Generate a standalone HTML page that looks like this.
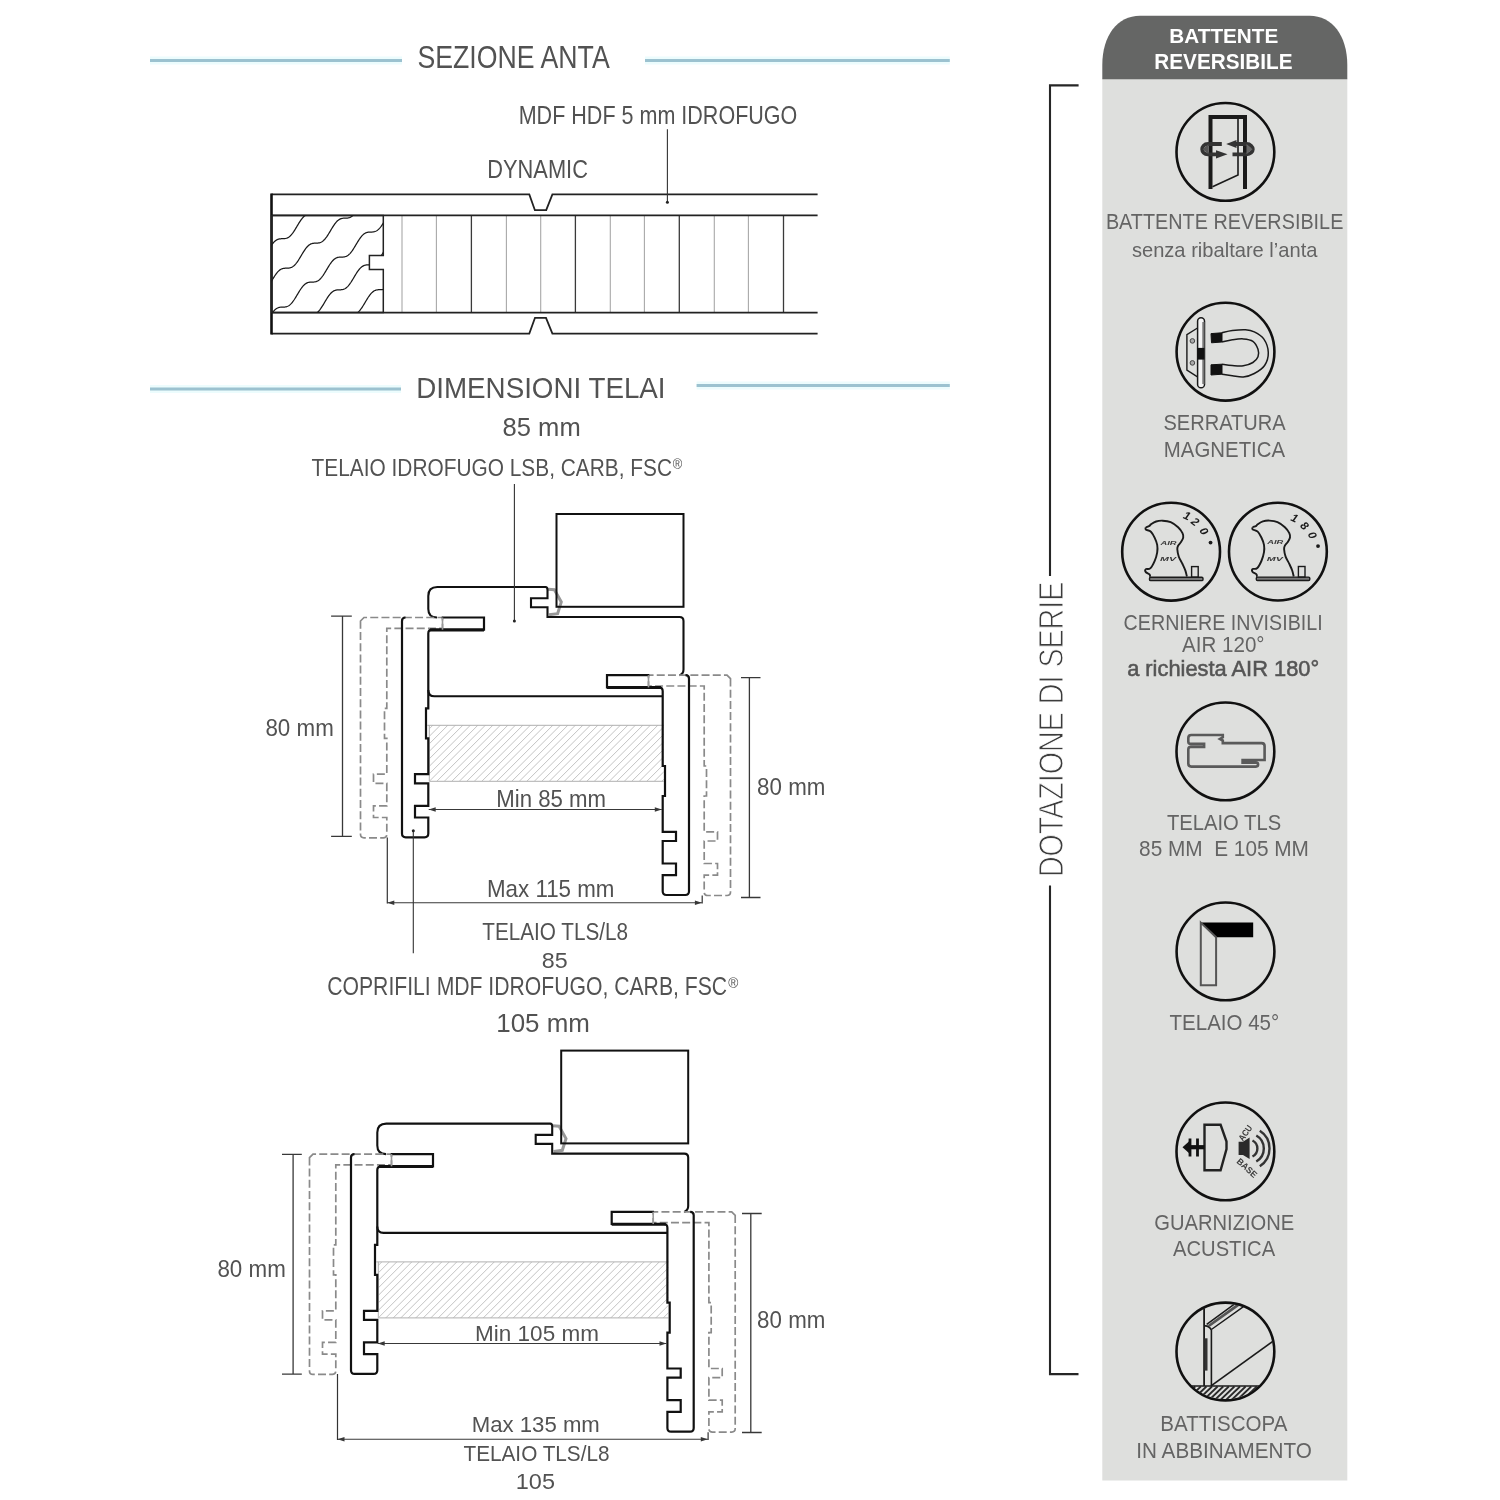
<!DOCTYPE html><html><head><meta charset="utf-8"><style>html,body{margin:0;padding:0;background:#fff;}svg{display:block;} text{font-family:"Liberation Sans",sans-serif;}</style></head><body><svg width="1500" height="1500" viewBox="0 0 1500 1500"><rect width="1500" height="1500" fill="#fff"/>
<rect x="1102.3" y="78.5" width="245" height="1402" fill="#dedfdd"/>
<path d="M1102.3,79.3 L1102.3,65 C1102.3,35.6 1117.5,15.75 1140,15.75 L1309.6,15.75 C1332.1,15.75 1347.3,35.6 1347.3,65 L1347.3,79.3 Z" fill="#656665"/>
<path d="M1078.6,85.4 L1050,85.4 L1050,576 M1050,885.6 L1050,1374.1 L1078.5,1374.1" fill="none" stroke="#262626" stroke-width="2.1"/>
<g fill="none" stroke-linejoin="miter">
<path d="M150,60.5 H402 M645,60.5 H949.8 M150,389 H401 M696.6,385.4 H949.8" stroke="#ecfcfd" stroke-width="8"/>
<path d="M150,60.5 H402 M645,60.5 H949.8 M150,389 H401 M696.6,385.4 H949.8" stroke="#9cc2d0" stroke-width="3"/>
<path d="M402,215.4 V312.4 M436.4,215.4 V312.4 M506.4,215.4 V312.4 M540.7,215.4 V312.4 M610.3,215.4 V312.4 M644.4,215.4 V312.4 M714.3,215.4 V312.4 M748.4,215.4 V312.4" stroke="#a8a8a8" stroke-width="1.1"/>
<path d="M471.4,215.4 V312.4 M575.4,215.4 V312.4 M679.3,215.4 V312.4 M783.5,215.4 V312.4" stroke="#3a3a3a" stroke-width="1.3"/>
<path d="M271.4,194.4 H529.3 L534.9,210.2 H546.2 L552.4,194.4 H817.6" stroke="#222" stroke-width="1.8"/>
<path d="M271.4,333.6 H529.3 L535,317.8 H546 L552.4,333.6 H817.6" stroke="#222" stroke-width="1.8"/>
<path d="M271.4,215.4 H817.6 M271.4,312.6 H817.6" stroke="#222" stroke-width="1.7"/>
<path d="M271.5,193.5 V334.5" stroke="#111" stroke-width="2.6"/>
<path d="M271.6,215.4 H383.3 V255.4 H369.4 V269.4 H383.3 V312.6 H271.6 Z" stroke="#222" stroke-width="1.5"/>
<clipPath id="wb"><path d="M271.6,215.4 H383.3 V255.4 H369.4 V269.4 H383.3 V312.6 H271.6 Z"/></clipPath>
<g clip-path="url(#wb)"><path d="M262.38,259.30 L262.88,258.68 L263.38,258.02 L263.88,257.33 L264.38,256.60 L264.88,255.84 L265.38,255.06 L265.88,254.26 L266.38,253.44 L266.88,252.61 L267.38,251.77 L267.88,250.92 L268.38,250.08 L268.88,249.25 L269.38,248.42 L269.88,247.62 L270.38,246.83 L270.88,246.06 L271.38,245.33 L271.88,244.62 L272.38,243.96 L272.88,243.32 L273.38,242.73 L273.88,242.18 L274.38,241.67 L274.88,241.21 L275.38,240.79 L275.88,240.42 L276.38,240.09 L276.88,239.80 L277.38,239.56 L277.88,239.35 L278.38,239.18 L278.88,239.05 L279.38,238.94 L279.88,238.86 L280.38,238.81 L280.88,238.77 L281.38,238.74 L281.88,238.73 L282.38,238.72 L282.88,238.71 L283.38,238.70 L283.88,238.67 L284.38,238.63 L284.88,238.58 L285.38,238.50 L285.88,238.39 L286.38,238.26 L286.88,238.09 L287.38,237.88 L287.88,237.64 L288.38,237.35 L288.88,237.02 L289.38,236.65 L289.88,236.23 L290.38,235.77 L290.88,235.26 L291.38,234.71 L291.88,234.12 L292.38,233.48 L292.88,232.82 L293.38,232.11 L293.88,231.38 L294.38,230.61 L294.88,229.82 L295.38,229.02 L295.88,228.19 L296.38,227.36 L296.88,226.52 L297.38,225.67 L297.88,224.83 L298.38,224.00 L298.88,223.18 L299.38,222.38 L299.88,221.60 L300.38,220.84 L300.88,220.11 L301.38,219.42 L301.88,218.76 L302.38,218.14 L302.88,217.56 L303.38,217.02 L303.88,216.53 L304.38,216.08 L304.88,215.67 L305.38,215.31 L305.88,214.99 L306.38,214.72 L306.88,214.48 L307.38,214.29 L307.88,214.13 L308.38,214.00 L308.88,213.90 L309.38,213.83 L309.88,213.78 L310.38,213.74 L310.88,213.72 L311.38,213.71 L311.88,213.70 L312.38,213.69 L312.88,213.68 L313.38,213.65 L313.88,213.61 L314.38,213.54 L314.88,213.46 L315.38,213.34 L315.88,213.20 L316.38,213.02 L316.88,212.80 L317.38,212.54 L317.88,212.25 L318.38,211.90 L318.88,211.52 L319.38,211.09 L319.88,210.61 L320.38,210.09 L320.88,209.53 L321.38,208.93 L321.88,208.29 L322.38,207.61 L322.88,206.89 L323.38,206.15 L323.88,205.38 M262.49,292.17 L262.99,291.90 L263.49,291.58 L263.99,291.22 L264.49,290.81 L264.99,290.36 L265.49,289.87 L265.99,289.33 L266.49,288.75 L266.99,288.13 L267.49,287.47 L267.99,286.78 L268.49,286.05 L268.99,285.29 L269.49,284.51 L269.99,283.71 L270.49,282.89 L270.99,282.06 L271.49,281.22 L271.99,280.37 L272.49,279.53 L272.99,278.70 L273.49,277.87 L273.99,277.07 L274.49,276.28 L274.99,275.51 L275.49,274.78 L275.99,274.07 L276.49,273.41 L276.99,272.77 L277.49,272.18 L277.99,271.63 L278.49,271.12 L278.99,270.66 L279.49,270.24 L279.99,269.87 L280.49,269.54 L280.99,269.25 L281.49,269.01 L281.99,268.80 L282.49,268.63 L282.99,268.50 L283.49,268.39 L283.99,268.31 L284.49,268.26 L284.99,268.22 L285.49,268.19 L285.99,268.18 L286.49,268.17 L286.99,268.16 L287.49,268.15 L287.99,268.12 L288.49,268.08 L288.99,268.03 L289.49,267.95 L289.99,267.84 L290.49,267.71 L290.99,267.54 L291.49,267.33 L291.99,267.09 L292.49,266.80 L292.99,266.47 L293.49,266.10 L293.99,265.68 L294.49,265.22 L294.99,264.71 L295.49,264.16 L295.99,263.57 L296.49,262.93 L296.99,262.27 L297.49,261.56 L297.99,260.83 L298.49,260.06 L298.99,259.27 L299.49,258.47 L299.99,257.64 L300.49,256.81 L300.99,255.97 L301.49,255.12 L301.99,254.28 L302.49,253.45 L302.99,252.63 L303.49,251.83 L303.99,251.05 L304.49,250.29 L304.99,249.56 L305.49,248.87 L305.99,248.21 L306.49,247.59 L306.99,247.01 L307.49,246.47 L307.99,245.98 L308.49,245.53 L308.99,245.12 L309.49,244.76 L309.99,244.44 L310.49,244.17 L310.99,243.93 L311.49,243.74 L311.99,243.58 L312.49,243.45 L312.99,243.35 L313.49,243.28 L313.99,243.23 L314.49,243.19 L314.99,243.17 L315.49,243.16 L315.99,243.15 L316.49,243.14 L316.99,243.13 L317.49,243.10 L317.99,243.06 L318.49,242.99 L318.99,242.91 L319.49,242.79 L319.99,242.65 L320.49,242.47 L320.99,242.25 L321.49,241.99 L321.99,241.70 L322.49,241.35 L322.99,240.97 L323.49,240.54 L323.99,240.06 L324.49,239.54 L324.99,238.98 L325.49,238.38 L325.99,237.74 L326.49,237.06 L326.99,236.34 L327.49,235.60 L327.99,234.83 L328.49,234.04 L328.99,233.22 L329.49,232.39 L329.99,231.56 L330.49,230.72 L330.99,229.87 L331.49,229.03 L331.99,228.21 L332.49,227.39 L332.99,226.59 L333.49,225.82 L333.99,225.07 L334.49,224.35 L334.99,223.67 L335.49,223.02 L335.99,222.41 L336.49,221.84 L336.99,221.31 L337.49,220.83 L337.99,220.39 L338.49,220.00 L338.99,219.65 L339.49,219.35 L339.99,219.08 L340.49,218.86 L340.99,218.67 L341.49,218.52 L341.99,218.40 L342.49,218.31 L342.99,218.25 L343.49,218.20 L343.99,218.17 L344.49,218.16 L344.99,218.14 L345.49,218.14 L345.99,218.12 L346.49,218.11 L346.99,218.07 L347.49,218.03 L347.99,217.96 L348.49,217.86 L348.99,217.74 L349.49,217.59 L349.99,217.40 L350.49,217.17 L350.99,216.90 L351.49,216.59 L351.99,216.24 L352.49,215.84 L352.99,215.39 L353.49,214.91 L353.99,214.38 L354.49,213.80 L354.99,213.19 L355.49,212.54 L355.99,211.85 L356.49,211.12 L356.99,210.37 L357.49,209.59 L357.99,208.79 L358.49,207.98 L358.99,207.15 L359.49,206.31 L359.99,205.46 M266.65,321.83 L267.15,321.00 L267.65,320.16 L268.15,319.31 L268.65,318.47 L269.15,317.64 L269.65,316.81 L270.15,316.01 L270.65,315.22 L271.15,314.45 L271.65,313.72 L272.15,313.01 L272.65,312.35 L273.15,311.71 L273.65,311.12 L274.15,310.57 L274.65,310.06 L275.15,309.60 L275.65,309.18 L276.15,308.81 L276.65,308.48 L277.15,308.19 L277.65,307.95 L278.15,307.74 L278.65,307.57 L279.15,307.44 L279.65,307.33 L280.15,307.25 L280.65,307.20 L281.15,307.16 L281.65,307.13 L282.15,307.12 L282.65,307.11 L283.15,307.10 L283.65,307.09 L284.15,307.06 L284.65,307.02 L285.15,306.97 L285.65,306.89 L286.15,306.78 L286.65,306.65 L287.15,306.48 L287.65,306.27 L288.15,306.03 L288.65,305.74 L289.15,305.41 L289.65,305.04 L290.15,304.62 L290.65,304.16 L291.15,303.65 L291.65,303.10 L292.15,302.51 L292.65,301.87 L293.15,301.21 L293.65,300.50 L294.15,299.77 L294.65,299.00 L295.15,298.21 L295.65,297.41 L296.15,296.58 L296.65,295.75 L297.15,294.91 L297.65,294.06 L298.15,293.22 L298.65,292.39 L299.15,291.57 L299.65,290.77 L300.15,289.99 L300.65,289.23 L301.15,288.50 L301.65,287.81 L302.15,287.15 L302.65,286.53 L303.15,285.95 L303.65,285.41 L304.15,284.92 L304.65,284.47 L305.15,284.06 L305.65,283.70 L306.15,283.38 L306.65,283.11 L307.15,282.87 L307.65,282.68 L308.15,282.52 L308.65,282.39 L309.15,282.29 L309.65,282.22 L310.15,282.17 L310.65,282.13 L311.15,282.11 L311.65,282.10 L312.15,282.09 L312.65,282.08 L313.15,282.07 L313.65,282.04 L314.15,282.00 L314.65,281.93 L315.15,281.85 L315.65,281.73 L316.15,281.59 L316.65,281.41 L317.15,281.19 L317.65,280.93 L318.15,280.64 L318.65,280.29 L319.15,279.91 L319.65,279.48 L320.15,279.00 L320.65,278.48 L321.15,277.92 L321.65,277.32 L322.15,276.68 L322.65,276.00 L323.15,275.28 L323.65,274.54 L324.15,273.77 L324.65,272.98 L325.15,272.16 L325.65,271.33 L326.15,270.50 L326.65,269.66 L327.15,268.81 L327.65,267.97 L328.15,267.15 L328.65,266.33 L329.15,265.53 L329.65,264.76 L330.15,264.01 L330.65,263.29 L331.15,262.61 L331.65,261.96 L332.15,261.35 L332.65,260.78 L333.15,260.25 L333.65,259.77 L334.15,259.33 L334.65,258.94 L335.15,258.59 L335.65,258.29 L336.15,258.02 L336.65,257.80 L337.15,257.61 L337.65,257.46 L338.15,257.34 L338.65,257.25 L339.15,257.19 L339.65,257.14 L340.15,257.11 L340.65,257.10 L341.15,257.08 L341.65,257.08 L342.15,257.06 L342.65,257.05 L343.15,257.01 L343.65,256.97 L344.15,256.90 L344.65,256.80 L345.15,256.68 L345.65,256.53 L346.15,256.34 L346.65,256.11 L347.15,255.84 L347.65,255.53 L348.15,255.18 L348.65,254.78 L349.15,254.33 L349.65,253.85 L350.15,253.32 L350.65,252.74 L351.15,252.13 L351.65,251.48 L352.15,250.79 L352.65,250.06 L353.15,249.31 L353.65,248.53 L354.15,247.73 L354.65,246.92 L355.15,246.09 L355.65,245.25 L356.15,244.40 L356.65,243.56 L357.15,242.73 L357.65,241.90 L358.15,241.09 L358.65,240.30 L359.15,239.53 L359.65,238.79 L360.15,238.08 L360.65,237.41 L361.15,236.77 L361.65,236.17 L362.15,235.61 L362.65,235.10 L363.15,234.63 L363.65,234.20 L364.15,233.82 L364.65,233.49 L365.15,233.19 L365.65,232.94 L366.15,232.73 L366.65,232.55 L367.15,232.41 L367.65,232.30 L368.15,232.22 L368.65,232.16 L369.15,232.12 L369.65,232.09 L370.15,232.08 L370.65,232.07 L371.15,232.06 L371.65,232.04 L372.15,232.02 L372.65,231.99 L373.15,231.93 L373.65,231.86 L374.15,231.76 L374.65,231.63 L375.15,231.46 L375.65,231.26 L376.15,231.02 L376.65,230.74 L377.15,230.42 L377.65,230.05 L378.15,229.64 L378.65,229.19 L379.15,228.69 L379.65,228.15 L380.15,227.56 L380.65,226.93 L381.15,226.27 L381.65,225.57 L382.15,224.84 L382.65,224.08 L383.15,223.30 L383.65,222.49 L384.15,221.67 L384.65,220.84 L385.15,220.00 L385.65,219.15 L386.15,218.31 L386.65,217.48 L387.15,216.66 L387.65,215.85 L388.15,215.07 L388.65,214.31 L389.15,213.57 L389.65,212.87 L390.15,212.21 L390.65,211.58 L391.15,210.99 L391.65,210.45 M298.82,321.66 L299.32,320.94 L299.82,320.26 L300.32,319.62 L300.82,319.02 L301.32,318.46 L301.82,317.94 L302.32,317.46 L302.82,317.03 L303.32,316.65 L303.82,316.30 L304.32,316.01 L304.82,315.75 L305.32,315.53 L305.82,315.35 L306.32,315.21 L306.82,315.09 L307.32,315.01 L307.82,314.94 L308.32,314.90 L308.82,314.87 L309.32,314.86 L309.82,314.85 L310.32,314.84 L310.82,314.83 L311.32,314.81 L311.82,314.77 L312.32,314.72 L312.82,314.65 L313.32,314.55 L313.82,314.42 L314.32,314.26 L314.82,314.07 L315.32,313.83 L315.82,313.56 L316.32,313.24 L316.82,312.88 L317.32,312.47 L317.82,312.02 L318.32,311.53 L318.82,310.99 L319.32,310.41 L319.82,309.79 L320.32,309.13 L320.82,308.44 L321.32,307.71 L321.82,306.95 L322.32,306.17 L322.82,305.37 L323.32,304.55 L323.82,303.72 L324.32,302.88 L324.82,302.03 L325.32,301.19 L325.82,300.36 L326.32,299.53 L326.82,298.73 L327.32,297.94 L327.82,297.17 L328.32,296.44 L328.82,295.73 L329.32,295.07 L329.82,294.43 L330.32,293.84 L330.82,293.29 L331.32,292.78 L331.82,292.32 L332.32,291.90 L332.82,291.53 L333.32,291.20 L333.82,290.91 L334.32,290.67 L334.82,290.46 L335.32,290.29 L335.82,290.16 L336.32,290.05 L336.82,289.97 L337.32,289.92 L337.82,289.88 L338.32,289.85 L338.82,289.84 L339.32,289.83 L339.82,289.82 L340.32,289.81 L340.82,289.78 L341.32,289.74 L341.82,289.69 L342.32,289.61 L342.82,289.50 L343.32,289.37 L343.82,289.20 L344.32,288.99 L344.82,288.75 L345.32,288.46 L345.82,288.13 L346.32,287.76 L346.82,287.34 L347.32,286.88 L347.82,286.37 L348.32,285.82 L348.82,285.23 L349.32,284.59 L349.82,283.93 L350.32,283.22 L350.82,282.49 L351.32,281.72 L351.82,280.93 L352.32,280.13 L352.82,279.30 L353.32,278.47 L353.82,277.63 L354.32,276.78 L354.82,275.94 L355.32,275.11 L355.82,274.29 L356.32,273.49 L356.82,272.71 L357.32,271.95 L357.82,271.22 L358.32,270.53 L358.82,269.87 L359.32,269.25 L359.82,268.67 L360.32,268.13 L360.82,267.64 L361.32,267.19 L361.82,266.78 L362.32,266.42 L362.82,266.10 L363.32,265.83 L363.82,265.59 L364.32,265.40 L364.82,265.24 L365.32,265.11 L365.82,265.01 L366.32,264.94 L366.82,264.89 L367.32,264.85 L367.82,264.83 L368.32,264.82 L368.82,264.81 L369.32,264.80 L369.82,264.79 L370.32,264.76 L370.82,264.72 L371.32,264.65 L371.82,264.57 L372.32,264.45 L372.82,264.31 L373.32,264.13 L373.82,263.91 L374.32,263.65 L374.82,263.36 L375.32,263.01 L375.82,262.63 L376.32,262.20 L376.82,261.72 L377.32,261.20 L377.82,260.64 L378.32,260.04 L378.82,259.40 L379.32,258.72 L379.82,258.00 L380.32,257.26 L380.82,256.49 L381.32,255.70 L381.82,254.88 L382.32,254.05 L382.82,253.22 L383.32,252.38 L383.82,251.53 L384.32,250.69 L384.82,249.87 L385.32,249.05 L385.82,248.25 L386.32,247.48 L386.82,246.73 L387.32,246.01 L387.82,245.33 L388.32,244.68 L388.82,244.07 L389.32,243.50 L389.82,242.97 L390.32,242.49 L390.82,242.05 L391.32,241.66 L391.82,241.31 M339.43,321.51 L339.93,320.79 L340.43,320.11 L340.93,319.47 L341.43,318.87 L341.93,318.31 L342.43,317.79 L342.93,317.31 L343.43,316.88 L343.93,316.50 L344.43,316.15 L344.93,315.86 L345.43,315.60 L345.93,315.38 L346.43,315.20 L346.93,315.06 L347.43,314.94 L347.93,314.86 L348.43,314.79 L348.93,314.75 L349.43,314.72 L349.93,314.71 L350.43,314.70 L350.93,314.69 L351.43,314.68 L351.93,314.66 L352.43,314.62 L352.93,314.57 L353.43,314.50 L353.93,314.40 L354.43,314.27 L354.93,314.11 L355.43,313.92 L355.93,313.68 L356.43,313.41 L356.93,313.09 L357.43,312.73 L357.93,312.32 L358.43,311.87 L358.93,311.38 L359.43,310.84 L359.93,310.26 L360.43,309.64 L360.93,308.98 L361.43,308.29 L361.93,307.56 L362.43,306.80 L362.93,306.02 L363.43,305.22 L363.93,304.40 L364.43,303.57 L364.93,302.73 L365.43,301.88 L365.93,301.04 L366.43,300.21 L366.93,299.38 L367.43,298.58 L367.93,297.79 L368.43,297.02 L368.93,296.29 L369.43,295.58 L369.93,294.92 L370.43,294.28 L370.93,293.69 L371.43,293.14 L371.93,292.63 L372.43,292.17 L372.93,291.75 L373.43,291.38 L373.93,291.05 L374.43,290.76 L374.93,290.52 L375.43,290.31 L375.93,290.14 L376.43,290.01 L376.93,289.90 L377.43,289.82 L377.93,289.77 L378.43,289.73 L378.93,289.70 L379.43,289.69 L379.93,289.68 L380.43,289.67 L380.93,289.66 L381.43,289.63 L381.93,289.59 L382.43,289.54 L382.93,289.46 L383.43,289.35 L383.93,289.22 L384.43,289.05 L384.93,288.84 L385.43,288.60 L385.93,288.31 L386.43,287.98 L386.93,287.61 L387.43,287.19 L387.93,286.73 L388.43,286.22 L388.93,285.67 L389.43,285.08 L389.93,284.44 L390.43,283.78 L390.93,283.07 L391.43,282.34 L391.93,281.57" stroke="#1a1a1a" stroke-width="1.25"/></g>
<path d="M667.4,129.2 V202" stroke="#333" stroke-width="1.1"/>
<circle cx="667.4" cy="202.3" r="1.5" fill="#222" stroke="none"/>
</g>
<g fill="none" stroke-linejoin="miter">
<clipPath id="wall0"><rect x="429.3" y="725.3" width="234.4" height="56"/></clipPath>
<g clip-path="url(#wall0)"><path d="M369.3,781.3 L429.3,721.3 M376.8,781.3 L436.8,721.3 M384.3,781.3 L444.3,721.3 M391.8,781.3 L451.8,721.3 M399.3,781.3 L459.3,721.3 M406.8,781.3 L466.8,721.3 M414.3,781.3 L474.3,721.3 M421.8,781.3 L481.8,721.3 M429.3,781.3 L489.3,721.3 M436.8,781.3 L496.8,721.3 M444.3,781.3 L504.3,721.3 M451.8,781.3 L511.8,721.3 M459.3,781.3 L519.3,721.3 M466.8,781.3 L526.8,721.3 M474.3,781.3 L534.3,721.3 M481.8,781.3 L541.8,721.3 M489.3,781.3 L549.3,721.3 M496.8,781.3 L556.8,721.3 M504.3,781.3 L564.3,721.3 M511.8,781.3 L571.8,721.3 M519.3,781.3 L579.3,721.3 M526.8,781.3 L586.8,721.3 M534.3,781.3 L594.3,721.3 M541.8,781.3 L601.8,721.3 M549.3,781.3 L609.3,721.3 M556.8,781.3 L616.8,721.3 M564.3,781.3 L624.3,721.3 M571.8,781.3 L631.8,721.3 M579.3,781.3 L639.3,721.3 M586.8,781.3 L646.8,721.3 M594.3,781.3 L654.3,721.3 M601.8,781.3 L661.8,721.3 M609.3,781.3 L669.3,721.3 M616.8,781.3 L676.8,721.3 M624.3,781.3 L684.3,721.3 M631.8,781.3 L691.8,721.3 M639.3,781.3 L699.3,721.3 M646.8,781.3 L706.8,721.3 M654.3,781.3 L714.3,721.3 M661.8,781.3 L721.8,721.3 M669.3,781.3 L729.3,721.3 M676.8,781.3 L736.8,721.3 M684.3,781.3 L744.3,721.3 M691.8,781.3 L751.8,721.3 M699.3,781.3 L759.3,721.3 M706.8,781.3 L766.8,721.3 M714.3,781.3 L774.3,721.3 M721.8,781.3 L781.8,721.3" stroke="#bcbcbc" stroke-width="0.9"/></g>
<path d="M427.3,725.3 H663.7 M429.3,781.3 H663.7 M429.3,725.3 V781.3" stroke="#b0b0b0" stroke-width="1"/>
<path d="M548,589.2 L554.4,589.7 L561.3,602 L557.6,613.7 L549,614.8" stroke="#989898" stroke-width="3"/>
<rect x="556.5" y="514" width="127" height="92.8" stroke="#111" stroke-width="2"/>
<path d="M437,617.5 Q428.3,617.5 428.3,609 L428.3,596 Q428.3,587 437.3,587 L545.5,587 Q547.5,587 547.5,590 L547.5,598.3 L531,598.3 L531,607.3 L547.5,607.3 L547.5,617 L679.5,617 Q683.5,617 683.5,621 L683.5,669.5 Q683.5,674 679.5,675.3" stroke="#111" stroke-width="2.1"/>
<path d="M428.3,690 Q428.3,696.3 434.5,696.3 L662.6,696.3" stroke="#111" stroke-width="2.1"/>
<path d="M360.5,621 L364,617.5 L442.5,617.5 L442.5,628.3 L386.8,628.3 L386.8,708.3 L384.5,708.3 L384.5,738.3 L386.8,738.3 L386.8,774.2 L373.5,774.2 L373.5,783.3 L386.8,783.3 L386.8,805.8 L373.5,805.8 L373.5,817.5 L386.8,817.5 L386.8,834.3 Q386.8,837.8 383.3,837.8 L364,837.8 Q360.5,837.8 360.5,834.3 Z" stroke="#8a8a8a" stroke-width="1.7" stroke-dasharray="8,3.2"/>
<path d="M730.5,678.7 L727,675.2 L648.5,675.2 L648.5,686 L704.2,686 L704.2,766 L706.5,766 L706.5,796 L704.2,796 L704.2,831.9 L717.5,831.9 L717.5,841 L704.2,841 L704.2,863.5 L717.5,863.5 L717.5,875.2 L704.2,875.2 L704.2,892 Q704.2,895.5 707.7,895.5 L727,895.5 Q730.5,895.5 730.5,892 Z" stroke="#8a8a8a" stroke-width="1.7" stroke-dasharray="8,3.2"/>
<path d="M441.7,617.5 L484,617.5 L484,629.7 L432,629.7 Q428.3,629.7 428.3,633.5 L428.3,708.3 L426,708.3 L426,738.3 L428.3,738.3 L428.3,774.2 L415,774.2 L415,783.3 L428.3,783.3 L428.3,805.8 L415,805.8 L415,817.5 L428.3,817.5 L428.3,833.6 Q428.3,837.3 424.6,837.3 L405.7,837.3 Q402,837.3 402,833.6 L402,621 Q402,617.5 405.5,617.5" stroke="#111" stroke-width="2.2"/>
<path d="M649.3,675.2 L607,675.2 L607,687.4 L659,687.4 Q662.7,687.4 662.7,691.2 L662.7,766 L665,766 L665,796 L662.7,796 L662.7,831.9 L676,831.9 L676,841 L662.7,841 L662.7,863.5 L676,863.5 L676,875.2 L662.7,875.2 L662.7,891.3 Q662.7,895 666.4,895 L685.3,895 Q689,895 689,891.3 L689,678.7 Q689,675.2 685.5,675.2" stroke="#111" stroke-width="2.2"/>
<path d="M430,629.9 H484" stroke="#111" stroke-width="3"/>
<path d="M661,687.6 H607" stroke="#111" stroke-width="3"/>
<path d="M442.5,617.5 V629.7" stroke="#9a9a9a" stroke-width="1.6"/>
<path d="M648.5,675.2 V687.4" stroke="#9a9a9a" stroke-width="1.6"/>
<path d="M342.5,616.1 V836.3 M331.1,616.1 H351.8 M331.1,836.3 H351.8" stroke="#383838" stroke-width="1.3"/>
<path d="M749.4,677.7 V897.5 M741,677.7 H760.5 M741,897.5 H760.5" stroke="#383838" stroke-width="1.3"/>
<path d="M428.7,809.5 H661.8" stroke="#383838" stroke-width="1.1"/><path d="M428.7,809.5 l7,-2.2 v4.4 Z M661.8,809.5 l-7,-2.2 v4.4 Z" fill="#383838" stroke="none"/>
<path d="M387.3,902.7 H701.9" stroke="#383838" stroke-width="1.1"/><path d="M387.3,902.7 l7,-2.2 v4.4 Z M701.9,902.7 l-7,-2.2 v4.4 Z" fill="#383838" stroke="none"/>
<path d="M387.3,837.5 V903.5 M702.2,895.6 V903.5" stroke="#333" stroke-width="1.2"/>
<path d="M514.4,484 V621 M413.3,830.8 V953.3" stroke="#333" stroke-width="1.1"/>
<circle cx="514.4" cy="621" r="1.5" fill="#222" stroke="none"/><circle cx="413.3" cy="830.8" r="1.5" fill="#222" stroke="none"/>
</g>
<g fill="none" stroke-linejoin="miter">
<clipPath id="wall536"><rect x="378.3" y="1261.9" width="290.1" height="56"/></clipPath>
<g clip-path="url(#wall536)"><path d="M318.3,1317.9 L378.3,1257.9 M325.8,1317.9 L385.8,1257.9 M333.3,1317.9 L393.3,1257.9 M340.8,1317.9 L400.8,1257.9 M348.3,1317.9 L408.3,1257.9 M355.8,1317.9 L415.8,1257.9 M363.3,1317.9 L423.3,1257.9 M370.8,1317.9 L430.8,1257.9 M378.3,1317.9 L438.3,1257.9 M385.8,1317.9 L445.8,1257.9 M393.3,1317.9 L453.3,1257.9 M400.8,1317.9 L460.8,1257.9 M408.3,1317.9 L468.3,1257.9 M415.8,1317.9 L475.8,1257.9 M423.3,1317.9 L483.3,1257.9 M430.8,1317.9 L490.8,1257.9 M438.3,1317.9 L498.3,1257.9 M445.8,1317.9 L505.8,1257.9 M453.3,1317.9 L513.3,1257.9 M460.8,1317.9 L520.8,1257.9 M468.3,1317.9 L528.3,1257.9 M475.8,1317.9 L535.8,1257.9 M483.3,1317.9 L543.3,1257.9 M490.8,1317.9 L550.8,1257.9 M498.3,1317.9 L558.3,1257.9 M505.8,1317.9 L565.8,1257.9 M513.3,1317.9 L573.3,1257.9 M520.8,1317.9 L580.8,1257.9 M528.3,1317.9 L588.3,1257.9 M535.8,1317.9 L595.8,1257.9 M543.3,1317.9 L603.3,1257.9 M550.8,1317.9 L610.8,1257.9 M558.3,1317.9 L618.3,1257.9 M565.8,1317.9 L625.8,1257.9 M573.3,1317.9 L633.3,1257.9 M580.8,1317.9 L640.8,1257.9 M588.3,1317.9 L648.3,1257.9 M595.8,1317.9 L655.8,1257.9 M603.3,1317.9 L663.3,1257.9 M610.8,1317.9 L670.8,1257.9 M618.3,1317.9 L678.3,1257.9 M625.8,1317.9 L685.8,1257.9 M633.3,1317.9 L693.3,1257.9 M640.8,1317.9 L700.8,1257.9 M648.3,1317.9 L708.3,1257.9 M655.8,1317.9 L715.8,1257.9 M663.3,1317.9 L723.3,1257.9 M670.8,1317.9 L730.8,1257.9 M678.3,1317.9 L738.3,1257.9 M685.8,1317.9 L745.8,1257.9 M693.3,1317.9 L753.3,1257.9 M700.8,1317.9 L760.8,1257.9 M708.3,1317.9 L768.3,1257.9 M715.8,1317.9 L775.8,1257.9 M723.3,1317.9 L783.3,1257.9" stroke="#bcbcbc" stroke-width="0.9"/></g>
<path d="M376.3,1261.9 H668.4 M378.3,1317.9 H668.4 M378.3,1261.9 V1317.9" stroke="#b0b0b0" stroke-width="1"/>
<path d="M552.7,1125.8 L559.1,1126.3 L566,1138.6 L562.3,1150.3 L553.7,1151.4" stroke="#989898" stroke-width="3"/>
<rect x="561.2" y="1050.6" width="127" height="92.8" stroke="#111" stroke-width="2"/>
<path d="M386,1154.1 Q377.3,1154.1 377.3,1145.6 L377.3,1132.6 Q377.3,1123.6 386.3,1123.6 L550.2,1123.6 Q552.2,1123.6 552.2,1126.6 L552.2,1134.9 L535.7,1134.9 L535.7,1143.9 L552.2,1143.9 L552.2,1153.6 L684.2,1153.6 Q688.2,1153.6 688.2,1157.6 L688.2,1206.1 Q688.2,1210.6 684.2,1211.9" stroke="#111" stroke-width="2.1"/>
<path d="M377.3,1226.6 Q377.3,1232.9 383.5,1232.9 L667.3,1232.9" stroke="#111" stroke-width="2.1"/>
<path d="M309.5,1157.6 L313,1154.1 L391.5,1154.1 L391.5,1164.9 L335.8,1164.9 L335.8,1244.9 L333.5,1244.9 L333.5,1274.9 L335.8,1274.9 L335.8,1310.8 L322.5,1310.8 L322.5,1319.9 L335.8,1319.9 L335.8,1342.4 L322.5,1342.4 L322.5,1354.1 L335.8,1354.1 L335.8,1370.9 Q335.8,1374.4 332.3,1374.4 L313,1374.4 Q309.5,1374.4 309.5,1370.9 Z" stroke="#8a8a8a" stroke-width="1.7" stroke-dasharray="8,3.2"/>
<path d="M735.2,1215.3 L731.7,1211.8 L653.2,1211.8 L653.2,1222.6 L708.9,1222.6 L708.9,1302.6 L711.2,1302.6 L711.2,1332.6 L708.9,1332.6 L708.9,1368.5 L722.2,1368.5 L722.2,1377.6 L708.9,1377.6 L708.9,1400.1 L722.2,1400.1 L722.2,1411.8 L708.9,1411.8 L708.9,1428.6 Q708.9,1432.1 712.4,1432.1 L731.7,1432.1 Q735.2,1432.1 735.2,1428.6 Z" stroke="#8a8a8a" stroke-width="1.7" stroke-dasharray="8,3.2"/>
<path d="M390.7,1154.1 L433,1154.1 L433,1166.3 L381,1166.3 Q377.3,1166.3 377.3,1170.1 L377.3,1244.9 L375,1244.9 L375,1274.9 L377.3,1274.9 L377.3,1310.8 L364,1310.8 L364,1319.9 L377.3,1319.9 L377.3,1342.4 L364,1342.4 L364,1354.1 L377.3,1354.1 L377.3,1370.2 Q377.3,1373.9 373.6,1373.9 L354.7,1373.9 Q351,1373.9 351,1370.2 L351,1157.6 Q351,1154.1 354.5,1154.1" stroke="#111" stroke-width="2.2"/>
<path d="M654,1211.8 L611.7,1211.8 L611.7,1224 L663.7,1224 Q667.4,1224 667.4,1227.8 L667.4,1302.6 L669.7,1302.6 L669.7,1332.6 L667.4,1332.6 L667.4,1368.5 L680.7,1368.5 L680.7,1377.6 L667.4,1377.6 L667.4,1400.1 L680.7,1400.1 L680.7,1411.8 L667.4,1411.8 L667.4,1427.9 Q667.4,1431.6 671.1,1431.6 L690,1431.6 Q693.7,1431.6 693.7,1427.9 L693.7,1215.3 Q693.7,1211.8 690.2,1211.8" stroke="#111" stroke-width="2.2"/>
<path d="M379,1166.5 H433" stroke="#111" stroke-width="3"/>
<path d="M665.7,1224.2 H611.7" stroke="#111" stroke-width="3"/>
<path d="M391.5,1154.1 V1166.3" stroke="#9a9a9a" stroke-width="1.6"/>
<path d="M653.2,1211.8 V1224" stroke="#9a9a9a" stroke-width="1.6"/>
<path d="M293.1,1154.3 V1374.2 M282,1154.3 H301.8 M282,1374.2 H301.8" stroke="#383838" stroke-width="1.3"/>
<path d="M750.8,1213.5 V1432.5 M742,1213.5 H761.7 M742,1432.5 H761.7" stroke="#383838" stroke-width="1.3"/>
<path d="M377.7,1343.5 H666.5" stroke="#383838" stroke-width="1.1"/><path d="M377.7,1343.5 l7,-2.2 v4.4 Z M666.5,1343.5 l-7,-2.2 v4.4 Z" fill="#383838" stroke="none"/>
<path d="M337.5,1439.3 H707.8" stroke="#383838" stroke-width="1.1"/><path d="M337.5,1439.3 l7,-2.2 v4.4 Z M707.8,1439.3 l-7,-2.2 v4.4 Z" fill="#383838" stroke="none"/>
<path d="M337.5,1374.1 V1440.1 M708.1,1432.2 V1440.1" stroke="#333" stroke-width="1.2"/>
</g>
<g fill="none" style="filter:grayscale(1)">
<circle cx="1225.4" cy="151.9" r="48.9" fill="none" stroke="#111" stroke-width="2.6"/>
<path d="M1210.5,189 V116.9 H1245 V189" stroke="#1a1a1a" stroke-width="4"/>
<path d="M1238,119 V175 L1212.5,186.7" stroke="#1a1a1a" stroke-width="1.6"/>
<path d="M1221.8,144 H1208 C1204,144 1202.2,147 1202.2,149.2 C1202.2,151.4 1204,154.3 1208,154.3 H1217" stroke="#333" stroke-width="3.8"/>
<path d="M1208.5,144 L1202.5,149.2 L1208.5,154.3 Z" fill="#555"/>
<path d="M1227.5,154.3 L1216,150.2 L1216,158.5 Z" fill="#333"/>
<path d="M1232.5,154.3 H1246.5 C1250.5,154.3 1252.8,151.6 1252.8,149.3 C1252.8,147 1250.5,144 1246.5,144 H1236" stroke="#333" stroke-width="3.8"/>
<path d="M1246.5,144 L1252.5,149.3 L1246.5,154.3 Z" fill="#666"/>
<path d="M1226.2,144 L1236.5,140 L1236.5,148 Z" fill="#333"/>
<circle cx="1225.5" cy="351.7" r="48.9" fill="none" stroke="#111" stroke-width="2.6"/>
<path d="M1197.5,328 L1186.9,334.7 V370.2 L1197.5,376.8" stroke="#1a1a1a" stroke-width="1.4"/>
<circle cx="1192.4" cy="340.9" r="2.3" stroke="#444" stroke-width="1" fill="#aaa"/>
<circle cx="1192.4" cy="362.9" r="2.3" stroke="#444" stroke-width="1" fill="#aaa"/>
<rect x="1197.6" y="317.8" width="6.9" height="70" rx="3.4" fill="#f4f4f4" stroke="#1a1a1a" stroke-width="1.5"/>
<rect x="1202.3" y="322" width="2.2" height="62" fill="#777"/>
<rect x="1197.6" y="347.9" width="6.9" height="11.7" fill="#111"/>
<path d="M1222,332.8 C1223.72,332.43 1228.38,331.1 1232.3,330.6 C1236.22,330.1 1241.83,329.58 1245.5,329.8 C1249.17,330.02 1251.23,330.35 1254.3,331.9 C1257.37,333.45 1261.57,335.67 1263.9,339.1 C1266.23,342.53 1268.18,348.1 1268.3,352.5 C1268.42,356.9 1266.93,362 1264.6,365.5 C1262.27,369 1257.85,371.58 1254.3,373.5 C1250.75,375.42 1246.97,376.63 1243.3,377 C1239.63,377.37 1235.85,376.17 1232.3,375.7 C1228.75,375.23 1223.72,374.45 1222,374.2 M1222,342 C1223.72,341.63 1228.75,340.32 1232.3,339.8 C1235.85,339.28 1239.87,338.65 1243.3,338.9 C1246.73,339.15 1250.45,339.57 1252.9,341.3 C1255.35,343.03 1257.15,346.73 1258,349.3 C1258.85,351.87 1258.85,354.5 1258,356.7 C1257.15,358.9 1255.35,360.98 1252.9,362.5 C1250.45,364.02 1246.73,365.3 1243.3,365.8 C1239.87,366.3 1235.85,365.77 1232.3,365.5 C1228.75,365.23 1223.72,364.42 1222,364.2" stroke="#1a1a1a" stroke-width="1.5"/>
<path d="M1211,333.6 L1222,332.8 V342 L1211.5,342.8 Z M1211,364.8 L1222,364.2 V374.2 L1211,375 Z" fill="#111" stroke="#111" stroke-width="1"/>
<circle cx="1171.1" cy="551.7" r="48.9" fill="none" stroke="#111" stroke-width="2.6"/>
<g transform="translate(0,0)">
<path d="M1145.8,527.3 C1146.42,527.07 1148.65,526.38 1149.5,525.9 C1150.35,525.42 1149.8,525.13 1150.9,524.4 C1152,523.67 1154.13,522.12 1156.1,521.5 C1158.07,520.88 1160.27,520.58 1162.7,520.7 C1165.13,520.82 1168.13,521.1 1170.7,522.2 C1173.27,523.3 1176.13,525.47 1178.1,527.3 C1180.07,529.13 1181.65,531.48 1182.5,533.2 C1183.35,534.92 1183.45,536.13 1183.2,537.6 C1182.95,539.07 1181.85,540.65 1181,542 C1180.15,543.35 1178.72,544.48 1178.1,545.7 C1177.48,546.92 1177.18,547.47 1177.3,549.3 C1177.42,551.13 1177.93,554.25 1178.8,556.7 C1179.67,559.15 1181.4,561.68 1182.5,564 C1183.6,566.32 1184.67,568.52 1185.4,570.6 C1186.13,572.68 1186.65,575.52 1186.9,576.5 M1145.8,527.3 C1145.8,527.67 1144.95,528.77 1145.8,529.5 C1146.65,530.23 1149.43,530.35 1150.9,531.7 C1152.37,533.05 1153.55,535.4 1154.6,537.6 C1155.65,539.8 1156.77,542.45 1157.2,544.9 C1157.63,547.35 1157.63,549.6 1157.2,552.3 C1156.77,555 1155.77,558.42 1154.6,561.1 C1153.43,563.78 1151.67,567.07 1150.2,568.4 C1148.73,569.73 1146.53,568.48 1145.8,569.1 C1145.07,569.72 1145.18,571.23 1145.8,572.1 C1146.42,572.97 1148.77,573.52 1149.5,574.3 C1150.23,575.08 1150.08,576.38 1150.2,576.8" stroke="#1a1a1a" stroke-width="1.9"/>
<rect x="1149.5" y="577.2" width="53.5" height="3.4" rx="1.2" fill="#777" stroke="#1a1a1a" stroke-width="1.4"/>
<rect x="1191.6" y="566.6" width="6.6" height="10.6" stroke="#1a1a1a" stroke-width="1.4"/>
<text x="1160.5" y="544.5" font-size="6.2" font-weight="700" font-style="italic" fill="#3a3a3a" textLength="16" lengthAdjust="spacingAndGlyphs">AIR</text>
<text x="1160" y="561" font-size="6.2" font-weight="700" font-style="italic" fill="#3a3a3a" textLength="16" lengthAdjust="spacingAndGlyphs">MV</text>
</g>
<circle cx="1277.9" cy="551.6" r="48.9" fill="none" stroke="#111" stroke-width="2.6"/>
<g transform="translate(106.8,-0.1)">
<path d="M1145.8,527.3 C1146.42,527.07 1148.65,526.38 1149.5,525.9 C1150.35,525.42 1149.8,525.13 1150.9,524.4 C1152,523.67 1154.13,522.12 1156.1,521.5 C1158.07,520.88 1160.27,520.58 1162.7,520.7 C1165.13,520.82 1168.13,521.1 1170.7,522.2 C1173.27,523.3 1176.13,525.47 1178.1,527.3 C1180.07,529.13 1181.65,531.48 1182.5,533.2 C1183.35,534.92 1183.45,536.13 1183.2,537.6 C1182.95,539.07 1181.85,540.65 1181,542 C1180.15,543.35 1178.72,544.48 1178.1,545.7 C1177.48,546.92 1177.18,547.47 1177.3,549.3 C1177.42,551.13 1177.93,554.25 1178.8,556.7 C1179.67,559.15 1181.4,561.68 1182.5,564 C1183.6,566.32 1184.67,568.52 1185.4,570.6 C1186.13,572.68 1186.65,575.52 1186.9,576.5 M1145.8,527.3 C1145.8,527.67 1144.95,528.77 1145.8,529.5 C1146.65,530.23 1149.43,530.35 1150.9,531.7 C1152.37,533.05 1153.55,535.4 1154.6,537.6 C1155.65,539.8 1156.77,542.45 1157.2,544.9 C1157.63,547.35 1157.63,549.6 1157.2,552.3 C1156.77,555 1155.77,558.42 1154.6,561.1 C1153.43,563.78 1151.67,567.07 1150.2,568.4 C1148.73,569.73 1146.53,568.48 1145.8,569.1 C1145.07,569.72 1145.18,571.23 1145.8,572.1 C1146.42,572.97 1148.77,573.52 1149.5,574.3 C1150.23,575.08 1150.08,576.38 1150.2,576.8" stroke="#1a1a1a" stroke-width="1.9"/>
<rect x="1149.5" y="577.2" width="53.5" height="3.4" rx="1.2" fill="#777" stroke="#1a1a1a" stroke-width="1.4"/>
<rect x="1191.6" y="566.6" width="6.6" height="10.6" stroke="#1a1a1a" stroke-width="1.4"/>
<text x="1160.5" y="544.5" font-size="6.2" font-weight="700" font-style="italic" fill="#3a3a3a" textLength="16" lengthAdjust="spacingAndGlyphs">AIR</text>
<text x="1160" y="561" font-size="6.2" font-weight="700" font-style="italic" fill="#3a3a3a" textLength="16" lengthAdjust="spacingAndGlyphs">MV</text>
</g>
<text x="1187.17" y="515.61" font-size="11.5" font-weight="700" font-style="italic" fill="#1a1a1a" text-anchor="middle" dominant-baseline="central" transform="rotate(24 1187.17 515.61)">1</text>
<text x="1195.33" y="521.78" font-size="11.5" font-weight="700" font-style="italic" fill="#1a1a1a" text-anchor="middle" dominant-baseline="central" transform="rotate(39 1195.33 521.78)">2</text>
<text x="1204.17" y="531.03" font-size="11.5" font-weight="700" font-style="italic" fill="#1a1a1a" text-anchor="middle" dominant-baseline="central" transform="rotate(58 1204.17 531.03)">0</text>
<circle cx="1210.56" cy="542.59" r="1.9" fill="#1a1a1a"/>
<text x="1294.54" y="518.07" font-size="11.5" font-weight="700" font-style="italic" fill="#1a1a1a" text-anchor="middle" dominant-baseline="central" transform="rotate(25 1294.54 518.07)">1</text>
<text x="1304.71" y="525.79" font-size="11.5" font-weight="700" font-style="italic" fill="#1a1a1a" text-anchor="middle" dominant-baseline="central" transform="rotate(45 1304.71 525.79)">8</text>
<text x="1312.6" y="535.16" font-size="11.5" font-weight="700" font-style="italic" fill="#1a1a1a" text-anchor="middle" dominant-baseline="central" transform="rotate(64 1312.6 535.16)">0</text>
<circle cx="1318.02" cy="546.1" r="1.9" fill="#1a1a1a"/>
<circle cx="1225.4" cy="751.4" r="48.9" fill="none" stroke="#111" stroke-width="2.6"/>
<path d="M1188.3,738 Q1188.3,735 1191.3,735 H1222.8 V737.3 L1219.9,739 L1222.8,740.6 V743.1 H1261.6 Q1264.6,743.1 1264.6,746.1 V760 H1242.6 V762.6 H1256 Q1258.1,762.6 1258.1,764.6 Q1258.1,766.6 1256,766.6 H1191.3 Q1188.3,766.6 1188.3,763.6 V749.5 Q1188.3,746.9 1190.8,746.9 H1204.1 V743.9 H1190.8 Q1188.3,743.9 1188.3,741.4 Z" stroke="#5a5a5a" stroke-width="2.6"/>
<circle cx="1225.5" cy="951.4" r="48.9" fill="none" stroke="#111" stroke-width="2.6"/>
<path d="M1200.8,922.6 H1253.2 V937.2 H1216.1 Z" fill="#000"/>
<path d="M1200.8,922.6 L1216.1,937.2 V985.3 H1200.8 Z" stroke="#555" stroke-width="2"/>
<circle cx="1225.4" cy="1151.4" r="48.9" fill="none" stroke="#111" stroke-width="2.6"/>
<path d="M1204.5,1124.8 H1220.6 L1226.5,1141.5 V1149 L1220.6,1170.2 H1204.5 Z" stroke="#222" stroke-width="2.4"/>
<path d="M1186,1147.2 H1204.5" stroke="#111" stroke-width="4.2"/>
<path d="M1190,1138.5 V1156.5 M1197.5,1138.5 V1156.5" stroke="#111" stroke-width="2.8"/>
<path d="M1182.5,1147.2 L1190,1140.5 L1190,1154 Z" fill="#111"/>
<path d="M1238.6,1141.8 H1243 L1249.6,1137.6 V1158.9 L1243,1155 H1238.6 Z" fill="#2a2a2a"/>
<path d="M1252.5,1140.5 A9,9 0 0 1 1252.5,1156.5 M1256.3,1135.5 A15,15 0 0 1 1256.3,1161.5 M1259.8,1130.8 A21,21 0 0 1 1259.8,1166.2" stroke="#333" stroke-width="2.4"/>
<text x="1245.5" y="1133" font-size="9" font-weight="700" fill="#3a3a3a" transform="rotate(-55 1245.5 1133)" text-anchor="middle" dominant-baseline="central" textLength="17" lengthAdjust="spacingAndGlyphs">ACU</text>
<text x="1247" y="1168" font-size="9" font-weight="700" fill="#3a3a3a" transform="rotate(42 1247 1168)" text-anchor="middle" dominant-baseline="central" textLength="24" lengthAdjust="spacingAndGlyphs">BASE</text>
<clipPath id="bc"><circle cx="1225.4" cy="1351.5" r="48"/></clipPath>
<g clip-path="url(#bc)">
<path d="M1170,1400 L1184,1386.5 M1175.6,1400 L1189.6,1386.5 M1181.2,1400 L1195.2,1386.5 M1186.8,1400 L1200.8,1386.5 M1192.4,1400 L1206.4,1386.5 M1198,1400 L1212,1386.5 M1203.6,1400 L1217.6,1386.5 M1209.2,1400 L1223.2,1386.5 M1214.8,1400 L1228.8,1386.5 M1220.4,1400 L1234.4,1386.5 M1226,1400 L1240,1386.5 M1231.6,1400 L1245.6,1386.5 M1237.2,1400 L1251.2,1386.5 M1242.8,1400 L1256.8,1386.5 M1248.4,1400 L1262.4,1386.5 M1254,1400 L1268,1386.5 M1259.6,1400 L1273.6,1386.5 M1265.2,1400 L1279.2,1386.5 M1270.8,1400 L1284.8,1386.5 M1276.4,1400 L1290.4,1386.5 M1282,1400 L1296,1386.5 M1287.6,1400 L1301.6,1386.5" stroke="#2a2a2a" stroke-width="1.8"/>
<path d="M1170,1386 H1280" stroke="#1a1a1a" stroke-width="1.6"/>
<path d="M1204.1,1300 V1386" stroke="#1a1a1a" stroke-width="1.8"/>
<path d="M1211.4,1330 V1386 M1204.1,1326 Q1208.5,1325 1211.4,1330" stroke="#1a1a1a" stroke-width="1.6"/>
<path d="M1206.7,1324.4 L1240,1300 M1211.4,1329.5 L1250,1302" stroke="#1a1a1a" stroke-width="1.5"/>
<path d="M1207.5,1325.3 L1241,1301 L1243.5,1302.8 L1209.5,1327 Z" fill="#555"/>
<path d="M1211.4,1385.6 L1276,1339" stroke="#1a1a1a" stroke-width="1.7"/>
<rect x="1204.3" y="1338.3" width="3.2" height="32.3" fill="#333"/>
</g>
<circle cx="1225.4" cy="1351.5" r="48.9" fill="none" stroke="#111" stroke-width="2.6"/>
</g>
<g font-family="Liberation Sans, sans-serif" style="filter:grayscale(1)">
<text x="417.47" y="67.8" font-size="30.43" font-weight="400" fill="#525252" textLength="192.27" lengthAdjust="spacingAndGlyphs">SEZIONE ANTA</text>
<text x="518.68" y="123.6" font-size="25.22" font-weight="400" fill="#525252" textLength="278.67" lengthAdjust="spacingAndGlyphs">MDF HDF 5 mm IDROFUGO</text>
<text x="487.25" y="178.2" font-size="25.51" font-weight="400" fill="#525252" textLength="100.65" lengthAdjust="spacingAndGlyphs">DYNAMIC</text>
<text x="416.18" y="397.6" font-size="29.86" font-weight="400" fill="#525252" textLength="249.42" lengthAdjust="spacingAndGlyphs">DIMENSIONI TELAI</text>
<text x="502.58" y="436" font-size="26.57" font-weight="400" fill="#525252" textLength="78.12" lengthAdjust="spacingAndGlyphs">85 mm</text>
<text x="311.58" y="475.7" font-size="24.49" font-weight="400" fill="#525252" textLength="360.47" lengthAdjust="spacingAndGlyphs">TELAIO IDROFUGO LSB, CARB, FSC</text>
<text x="672.84" y="468.56" font-size="14.37" font-weight="400" fill="#525252" textLength="9.47" lengthAdjust="spacingAndGlyphs">®</text>
<text x="265.41" y="736" font-size="24.29" font-weight="400" fill="#525252" textLength="68.38" lengthAdjust="spacingAndGlyphs">80 mm</text>
<text x="757.11" y="795" font-size="23.86" font-weight="400" fill="#525252" textLength="68.27" lengthAdjust="spacingAndGlyphs">80 mm</text>
<text x="496.22" y="806.9" font-size="23.48" font-weight="400" fill="#525252" textLength="109.83" lengthAdjust="spacingAndGlyphs">Min 85 mm</text>
<text x="487.01" y="897" font-size="24.2" font-weight="400" fill="#525252" textLength="127.44" lengthAdjust="spacingAndGlyphs">Max 115 mm</text>
<text x="482.29" y="940" font-size="24.2" font-weight="400" fill="#525252" textLength="145.86" lengthAdjust="spacingAndGlyphs">TELAIO TLS/L8</text>
<text x="541.77" y="968.3" font-size="22.86" font-weight="400" fill="#525252" textLength="25.92" lengthAdjust="spacingAndGlyphs">85</text>
<text x="327.24" y="995" font-size="25.07" font-weight="400" fill="#525252" textLength="399.9" lengthAdjust="spacingAndGlyphs">COPRIFILI MDF IDROFUGO, CARB, FSC</text>
<text x="728.13" y="987.56" font-size="14.37" font-weight="400" fill="#525252" textLength="10.11" lengthAdjust="spacingAndGlyphs">®</text>
<text x="496.23" y="1031.7" font-size="25.29" font-weight="400" fill="#525252" textLength="93.69" lengthAdjust="spacingAndGlyphs">105 mm</text>
<text x="217.41" y="1277" font-size="24.29" font-weight="400" fill="#525252" textLength="68.38" lengthAdjust="spacingAndGlyphs">80 mm</text>
<text x="757.11" y="1327.7" font-size="23.43" font-weight="400" fill="#525252" textLength="68.27" lengthAdjust="spacingAndGlyphs">80 mm</text>
<text x="475.1" y="1341.2" font-size="22.61" font-weight="400" fill="#525252" textLength="123.81" lengthAdjust="spacingAndGlyphs">Min 105 mm</text>
<text x="471.73" y="1431.7" font-size="22.61" font-weight="400" fill="#525252" textLength="128.11" lengthAdjust="spacingAndGlyphs">Max 135 mm</text>
<text x="463.49" y="1461.3" font-size="22.61" font-weight="400" fill="#525252" textLength="146.06" lengthAdjust="spacingAndGlyphs">TELAIO TLS/L8</text>
<text x="515.82" y="1489.4" font-size="22.29" font-weight="400" fill="#525252" textLength="39.19" lengthAdjust="spacingAndGlyphs">105</text>
<text x="1169.35" y="42.5" font-size="21.01" font-weight="700" fill="#ffffff" textLength="108.96" lengthAdjust="spacingAndGlyphs">BATTENTE</text>
<text x="1154.35" y="69.2" font-size="21.74" font-weight="700" fill="#ffffff" textLength="138.14" lengthAdjust="spacingAndGlyphs">REVERSIBILE</text>
<text x="1105.91" y="229.2" font-size="21.74" font-weight="400" fill="#646464" textLength="237.46" lengthAdjust="spacingAndGlyphs">BATTENTE REVERSIBILE</text>
<text x="1131.9" y="256.7" font-size="19.45" font-weight="400" fill="#646464" textLength="185.56" lengthAdjust="spacingAndGlyphs">senza ribaltare l’anta</text>
<text x="1163.5" y="429.5" font-size="22.46" font-weight="400" fill="#646464" textLength="122.07" lengthAdjust="spacingAndGlyphs">SERRATURA</text>
<text x="1163.87" y="457" font-size="22.03" font-weight="400" fill="#646464" textLength="121.23" lengthAdjust="spacingAndGlyphs">MAGNETICA</text>
<text x="1123.62" y="629.5" font-size="22.17" font-weight="400" fill="#646464" textLength="199.03" lengthAdjust="spacingAndGlyphs">CERNIERE INVISIBILI</text>
<text x="1182" y="651.8" font-size="22.32" font-weight="400" fill="#646464" textLength="82.6" lengthAdjust="spacingAndGlyphs">AIR 120°</text>
<text x="1127.13" y="676.3" font-size="22.17" font-weight="400" fill="#555555" stroke="#555555" stroke-width="0.55" textLength="192.06" lengthAdjust="spacingAndGlyphs">a richiesta AIR 180°</text>
<text x="1167" y="830.1" font-size="22.61" font-weight="400" fill="#646464" textLength="114.12" lengthAdjust="spacingAndGlyphs">TELAIO TLS</text>
<text x="1139.07" y="855.7" font-size="21.16" font-weight="400" fill="#646464" textLength="169.88" lengthAdjust="spacingAndGlyphs">85 MM  E 105 MM</text>
<text x="1169.59" y="1030" font-size="22.46" font-weight="400" fill="#646464" textLength="109.57" lengthAdjust="spacingAndGlyphs">TELAIO 45°</text>
<text x="1154.29" y="1230.3" font-size="22.9" font-weight="400" fill="#646464" textLength="140.01" lengthAdjust="spacingAndGlyphs">GUARNIZIONE</text>
<text x="1173" y="1256.3" font-size="22.03" font-weight="400" fill="#646464" textLength="102.13" lengthAdjust="spacingAndGlyphs">ACUSTICA</text>
<text x="1160.36" y="1430.9" font-size="21.74" font-weight="400" fill="#646464" textLength="127.07" lengthAdjust="spacingAndGlyphs">BATTISCOPA</text>
<text x="1136.34" y="1458.2" font-size="22.75" font-weight="400" fill="#646464" textLength="175.47" lengthAdjust="spacingAndGlyphs">IN ABBINAMENTO</text>
<text x="-877.09" y="1063" font-size="34.78" font-weight="400" fill="#3c3c3c" stroke="#ffffff" stroke-width="1.0" textLength="295.41" lengthAdjust="spacingAndGlyphs" transform="rotate(-90)">DOTAZIONE DI SERIE</text>
</g>
</svg></body></html>
